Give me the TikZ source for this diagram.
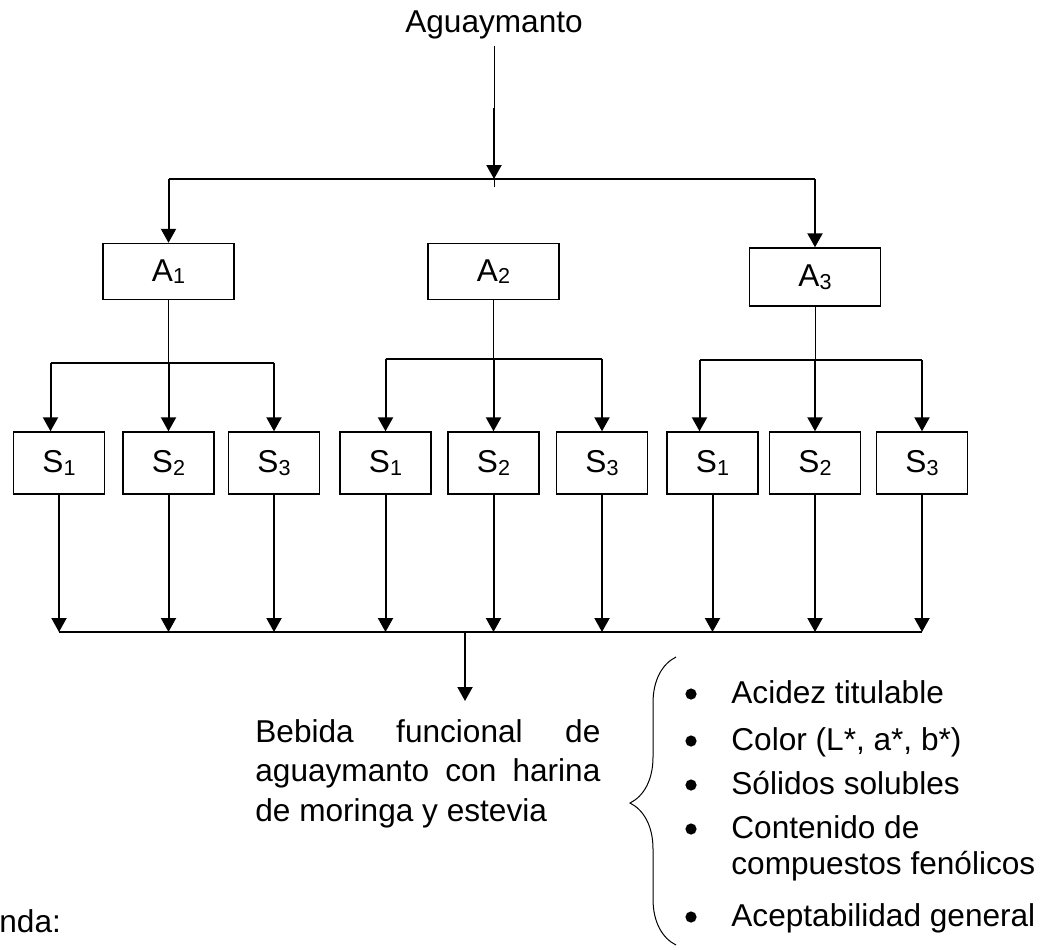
\documentclass[tikz,border=0pt]{standalone}
\usepackage{fontspec}
\setmainfont{Liberation Sans}
\usepackage{tikz}
\usetikzlibrary{positioning,arrows.meta,calc,decorations.pathreplacing}
\newcommand{\idx}[1]{\raisebox{-1.3pt}{\fontsize{10.8}{10.8}\selectfont #1}}

\begin{document}
\begin{tikzpicture}[
  x=0.5pt, y=-0.5pt,
  font=\fontsize{15.8}{19.7}\selectfont,
  abox/.style={draw, line width=0.7pt, minimum width=65.5pt, minimum height=28pt, inner sep=0pt},
  sbox/.style={draw, line width=0.7pt, minimum width=45.5pt, minimum height=31pt, inner sep=0pt},
  prop/.style={anchor=base west, inner sep=0pt},
  arr/.style={-{Triangle[length=7pt,width=7.5pt]}, line width=1pt},
  bus/.style={line width=1pt},
  stem/.style={line width=0.5pt}
]
\useasboundingbox (0,0) rectangle (1058,949);
% raw material
\node[anchor=base] (agua) at (494,32) {Aguaymanto};
\coordinate (split) at (494,108);
\coordinate (hub) at (494,179);
% treatments A
\node[abox] (A1) at (168.5,271.5) {A\idx{1}};
\node[abox] (A2) at (493.5,271.5) {A\idx{2}};
\node[abox, minimum height=29pt] (A3) at (815,277) {A\idx{3}};
\coordinate (g1) at (168.5,363);
\coordinate (g2) at (493.5,359);
\coordinate (g3) at (815,360);
% treatments S
\node[sbox] (S11) at (59,463) {S\idx{1}};
\node[sbox] (S12) at (168.5,463) {S\idx{2}};
\node[sbox] (S13) at (274,463) {S\idx{3}};
\node[sbox] (S21) at (385.5,463) {S\idx{1}};
\node[sbox] (S22) at (493.5,463) {S\idx{2}};
\node[sbox] (S23) at (602,463) {S\idx{3}};
\node[sbox] (S31) at (712.5,463) {S\idx{1}};
\node[sbox] (S32) at (815,463) {S\idx{2}};
\node[sbox] (S33) at (922,463) {S\idx{3}};
\coordinate (in11) at ([xshift=-4.25pt]S11.north);
\coordinate (in31) at ([xshift=-6.5pt]S31.north);
\coordinate (sink) at (465,632);
% product
\node[anchor=north west, inner sep=0pt, text width=172.5pt, align=justify] (bebida) at (255,719)
  {Bebida funcional de\linebreak aguaymanto con harina\linebreak de moringa y estevia};
% evaluations
\node[prop] (p1) at (731,703) {Acidez titulable};
\node[prop] (p2) at (731,750) {Color (L*, a*, b*)};
\node[prop] (p3) at (731,794) {Sólidos solubles};
\node[prop] (p4) at (731,838) {Contenido de};
\node[prop] (p5) at (731,874) {compuestos fenólicos};
\node[prop] (p6) at (731,926) {Aceptabilidad general};
\node[prop] (leyenda) at (-1,932) {nda:};
% bullets
\fill ([shift={(-20pt,4.5pt)}]p1.base west) circle (2.8pt);
\fill ([shift={(-20pt,4.5pt)}]p2.base west) circle (2.8pt);
\fill ([shift={(-20pt,4.5pt)}]p3.base west) circle (2.8pt);
\fill ([shift={(-20pt,4.5pt)}]p4.base west) circle (2.8pt);
\fill ([shift={(-20pt,4.5pt)}]p6.base west) circle (2.8pt);

% first split
\draw[stem] (agua.south) -- (split);
\draw[arr] (split) -- (hub);
\draw[bus] (A1 |- hub) -- (A3 |- hub);
\draw[stem] (hub) -- ++(0,8);
\draw[arr] (A1 |- hub) -- (A1);
\draw[arr] (A3 |- hub) -- (A3);
% second split
\draw[stem] (A1) -- (g1);
\draw[stem] (A2) -- (g2);
\draw[stem] (A3) -- (g3);
\draw[bus] (in11 |- g1) -- (S13 |- g1);
\draw[bus] (S21 |- g2) -- (S23 |- g2);
\draw[bus] (in31 |- g3) -- (S33 |- g3);
\draw[arr] (in11 |- g1) -- (in11);
\draw[arr] (g1 -| S12) -- (S12);
\draw[arr] (g1 -| S13) -- (S13);
\draw[arr] (g2 -| S21) -- (S21);
\draw[arr] (g2 -| S22) -- (S22);
\draw[arr] (g2 -| S23) -- (S23);
\draw[arr] (in31 |- g3) -- (in31);
\draw[arr] (g3 -| S32) -- (S32);
\draw[arr] (g3 -| S33) -- (S33);
% collect
\draw[arr] (S11) -- (S11 |- sink);
\draw[arr] (S12) -- (S12 |- sink);
\draw[arr] (S13) -- (S13 |- sink);
\draw[arr] (S21) -- (S21 |- sink);
\draw[arr] (S22) -- (S22 |- sink);
\draw[arr] (S23) -- (S23 |- sink);
\draw[arr] (S31) -- (S31 |- sink);
\draw[arr] (S32) -- (S32 |- sink);
\draw[arr] (S33) -- (S33 |- sink);
\draw[bus] (S11 |- sink) -- (S33 |- sink);
\draw[arr, shorten >=9pt] (sink) -- (sink |- bebida.north);
% brace
\draw[stem, decorate, decoration={brace, amplitude=23pt, aspect=0.493}] (676,945) -- (676,657);
\end{tikzpicture}
\end{document}
